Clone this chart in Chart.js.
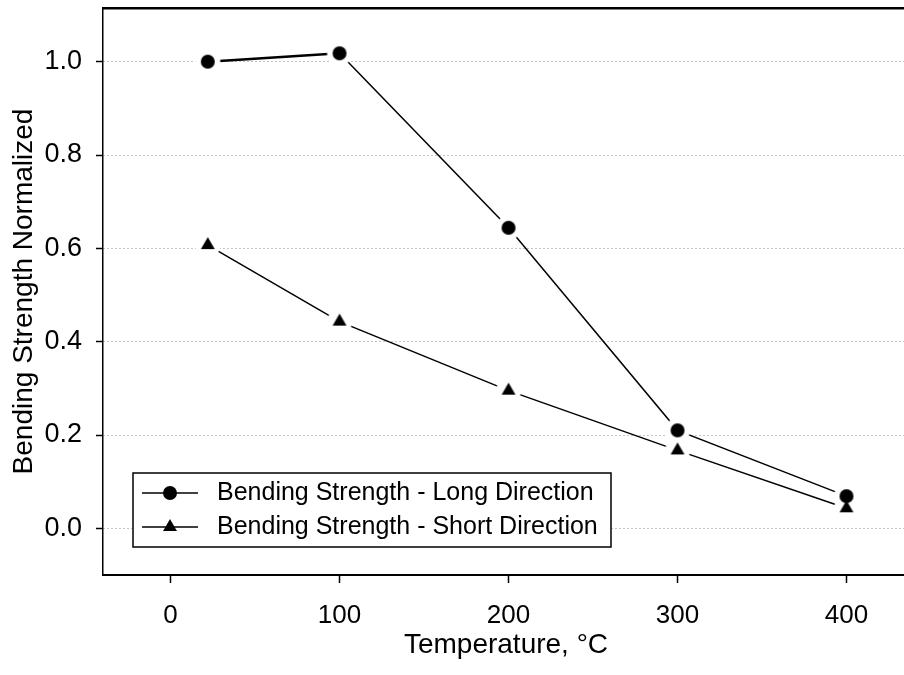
<!DOCTYPE html>
<html>
<head>
<meta charset="utf-8">
<script src="https://cdn.jsdelivr.net/npm/chart.js@4/dist/chart.umd.min.js"></script>
<style>
  html, body { margin: 0; padding: 0; background: #fff; overflow: hidden; }
  #wrap { width: 909px; height: 675px; }
</style>
</head>
<body>
<div id="wrap"><canvas id="grafico" width="909" height="675"></canvas></div>
<script>
const temperaturas = [22, 100, 200, 300, 400];
const largoDir = [1.0, 1.018, 0.644, 0.21, 0.069];
const cortoDir = [0.607, 0.443, 0.295, 0.167, 0.043];
const xTicks = [0, 100, 200, 300, 400];
const yTicks = [0, 0.2, 0.4, 0.6, 0.8, 1.0];
const etiquetas = ['Bending Strength - Long Direction', 'Bending Strength - Short Direction'];

const fuente = 'Liberation Sans, Arial, sans-serif';

function dibujarForma(g, tipo, x, y) {
  g.beginPath();
  if (tipo === 'circle') {
    g.arc(x, y, 7, 0, Math.PI * 2);
  } else {
    const r = 8;
    g.moveTo(x, y - r);
    g.lineTo(x + r * 0.866, y + r / 2);
    g.lineTo(x - r * 0.866, y + r / 2);
    g.closePath();
  }
  g.fill();
}

function crearImagen(tipo) {
  const c = document.createElement('canvas');
  c.width = 30; c.height = 30;
  const g = c.getContext('2d');
  if (tipo === 'halo') {
    // halo blanco: corta la linea alrededor del punto
    g.fillStyle = '#fff';
    g.beginPath(); g.arc(15, 15, 12.5, 0, Math.PI * 2); g.fill();
  } else {
    g.fillStyle = '#000';
    dibujarForma(g, tipo, 15, 15);
  }
  return c;
}

const halo = crearImagen('halo');
const puntos = arr => temperaturas.map((t, i) => ({ x: t, y: arr[i] }));

const leyenda = {
  id: 'leyenda',
  afterDatasetsDraw(chart) {
    const ctx = chart.ctx;
    const a = chart.chartArea;
    const x0 = a.left + 30, y0 = 473, w = 478, h = 74;
    ctx.save();
    ctx.fillStyle = '#fff';
    ctx.fillRect(x0, y0, w, h);
    ctx.strokeStyle = '#000';
    ctx.lineWidth = 1.5;
    ctx.strokeRect(x0, y0, w, h);
    chart.data.datasets.filter(ds => ds.marcador).forEach((ds, i) => {
      const yy = y0 + 20 + i * 34;
      ctx.lineWidth = 1.5;
      ctx.beginPath();
      ctx.moveTo(x0 + 9, yy);
      ctx.lineTo(x0 + 65, yy);
      ctx.stroke();
      ctx.fillStyle = '#000';
      dibujarForma(ctx, ds.marcador, x0 + 37, yy);
      ctx.font = '25px ' + fuente;
      ctx.textBaseline = 'middle';
      ctx.textAlign = 'left';
      ctx.fillText(ds.label, x0 + 84, yy);
    });
    ctx.restore();
  }
};

const config = {
  type: 'line',
  data: {
    datasets: [
      // lineas
      { label: etiquetas[0], data: puntos(largoDir), borderColor: '#000', borderWidth: 1.5,
        segment: { borderWidth: c => c.p0DataIndex === 0 ? 2.5 : 1.5 }, pointRadius: 0, order: 3 },
      { label: etiquetas[1], data: puntos(cortoDir), borderColor: '#000', borderWidth: 1.5,
        pointRadius: 0, order: 3 },
      // halos
      { data: puntos(largoDir), showLine: false, pointStyle: halo, pointRadius: 13, order: 2 },
      { data: puntos(cortoDir), showLine: false, pointStyle: halo, pointRadius: 13, order: 2 },
      // marcadores
      { label: etiquetas[0], marcador: 'circle', data: puntos(largoDir), showLine: false,
        pointStyle: crearImagen('circle'), pointRadius: 13, order: 1 },
      { label: etiquetas[1], marcador: 'triangle', data: puntos(cortoDir), showLine: false,
        pointStyle: crearImagen('triangle'), pointRadius: 13, order: 1 }
    ]
  },
  options: {
    responsive: false,
    animation: false,
    events: [],
    devicePixelRatio: 1,
    layout: { padding: 0, autoPadding: false },
    plugins: { legend: { display: false }, tooltip: { enabled: false } },
    scales: {
      x: {
        type: 'linear',
        position: 'bottom',
        min: -40, max: 437,
        afterBuildTicks: s => { s.ticks = xTicks.map(v => ({ value: v })); },
        afterFit: s => { s.height = 100; s.paddingLeft = 0; s.paddingRight = 0; },
        ticks: { color: '#000', font: { family: fuente, size: 26 }, padding: 17, maxRotation: 0 },
        grid: { drawOnChartArea: false, drawTicks: true, tickLength: 8, tickColor: '#000', tickWidth: 1.5 },
        border: { display: true, color: '#000', width: 2 },
        title: { display: true, text: 'Temperature, °C', color: '#000', font: { family: fuente, size: 28 }, padding: { top: 0, bottom: 13 } }
      },
      x2: {
        type: 'linear',
        position: 'top',
        min: -40, max: 437,
        afterFit: s => { s.height = 8; s.paddingLeft = 0; s.paddingRight = 0; },
        ticks: { display: false },
        grid: { display: false },
        border: { display: true, color: '#000', width: 2.5 }
      },
      y: {
        type: 'linear',
        min: -0.1, max: 1.115,
        afterBuildTicks: s => { s.ticks = yTicks.map(v => ({ value: v })); },
        afterFit: s => { s.width = 103; s.paddingTop = 0; s.paddingBottom = 0; },
        ticks: { color: '#000', font: { family: fuente, size: 27 }, padding: 14, callback: v => v.toFixed(1) },
        grid: { color: 'rgba(0,0,0,0.45)', lineWidth: 1, tickLength: 7, tickColor: '#000', tickWidth: 1.5, tickBorderDash: [] },
        border: { display: true, color: '#000', width: 1.5, dash: [1, 3] },
        title: { display: true, text: 'Bending Strength Normalized', color: '#000', font: { family: fuente, size: 28 }, padding: { top: 7, bottom: 0 } }
      }
    }
  },
  plugins: [leyenda]
};

new Chart(document.getElementById('grafico'), config);
</script>
</body>
</html>
